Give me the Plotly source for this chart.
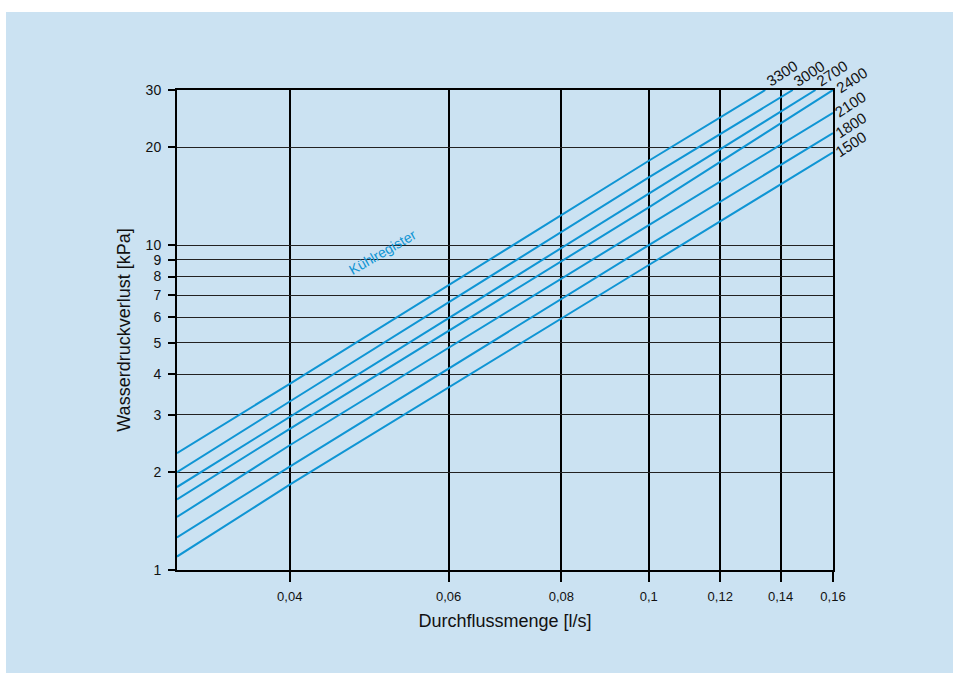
import plotly.graph_objects as go
import math

# ---- data ----
series_names = ["3300", "3000", "2700", "2400", "2100", "1800", "1500"]
x_3300 = [0.03, 0.04, 0.10, 0.1346]
y_3300 = [2.29, 3.74, 18.17, 30.0]
x_3000 = [0.03, 0.04, 0.10, 0.1444]
y_3000 = [2.00, 3.30, 16.15, 30.0]
x_2700 = [0.03, 0.04, 0.10, 0.153]
y_2700 = [1.80, 2.96, 14.42, 30.0]
x_2400 = [0.03, 0.04, 0.10, 0.16]
y_2400 = [1.65, 2.72, 13.06, 30.0]
x_2100 = [0.03, 0.04, 0.10, 0.16]
y_2100 = [1.456, 2.42, 11.52, 25.5]
x_1800 = [0.03, 0.04, 0.10, 0.16]
y_1800 = [1.26, 2.08, 10.0, 22.1]
x_1500 = [0.03, 0.04, 0.10, 0.16]
y_1500 = [1.10, 1.83, 8.68, 19.3]

x_tickvals = [0.04, 0.06, 0.08, 0.1, 0.12, 0.14, 0.16]
x_ticktext = ["0,04", "0,06", "0,08", "0,1", "0,12", "0,14", "0,16"]
y_tickvals = [1, 2, 3, 4, 5, 6, 7, 8, 9, 10, 20, 30]
y_ticktext = [str(v) for v in y_tickvals]

xs = [x_3300, x_3000, x_2700, x_2400, x_2100, x_1800, x_1500]
ys = [y_3300, y_3000, y_2700, y_2400, y_2100, y_1800, y_1500]

LINE = "#0f95d4"
BG = "#cbe2f2"
FONT = "Liberation Sans, Arial, sans-serif"

fig = go.Figure()
for name, xv, yv in zip(series_names, xs, ys):
    fig.add_trace(go.Scatter(x=xv, y=yv, mode="lines", name=name,
                             line=dict(color=LINE, width=2), showlegend=False,
                             hoverinfo="skip"))

# labels at line ends
for name, xv, yv in zip(series_names, xs, ys):
    top = yv[-1] >= 29.9 and name != "2400"
    if name == "2400":
        xs_, ys_ = 18, 10
    elif top:
        xs_, ys_ = 16, 17
    else:
        xs_, ys_ = 17, 8
    fig.add_annotation(x=math.log10(xv[-1]), y=math.log10(yv[-1]), xref="x", yref="y",
                       text=name, showarrow=False, textangle=-33,
                       xshift=xs_, yshift=ys_,
                       font=dict(family=FONT, size=15, color="#111"))

fig.add_annotation(x=math.log10(0.0507), y=math.log10(9.52), xref="x", yref="y",
                   text="Kühlregister", showarrow=False, textangle=-30,
                   font=dict(family=FONT, size=14, color=LINE))

L, R, T, B = 177, 120, 90, 103
W, H = 953, 673
pw, ph = W - L - R, H - T - B
fig.add_shape(type="rect", xref="paper", yref="paper",
              x0=(6 - L) / pw, x1=(953 - L) / pw,
              y0=(H - B - 673) / ph, y1=(H - B - 12) / ph,
              fillcolor=BG, line=dict(width=0), layer="below")

fig.update_layout(
    width=W, height=H,
    margin=dict(l=L, r=R, t=T, b=B),
    paper_bgcolor="white", plot_bgcolor="rgba(0,0,0,0)",
    font=dict(family=FONT, size=13, color="#111"),
    xaxis=dict(type="log", range=[math.log10(0.03), math.log10(0.16)],
               tickvals=x_tickvals, ticktext=x_ticktext,
               showgrid=True, gridcolor="#000", gridwidth=2,
               showline=True, linecolor="#000", linewidth=2, mirror=True,
               ticks="outside", ticklen=10, tickwidth=2, tickcolor="#000",
               tickfont=dict(size=13), zeroline=False, ticklabelstandoff=3,
               title=dict(text="Durchflussmenge [l/s]", font=dict(size=18), standoff=12)),
    yaxis=dict(type="log", range=[0, math.log10(30)],
               tickvals=y_tickvals, ticktext=y_ticktext,
               showgrid=True, gridcolor="#222", gridwidth=1,
               showline=True, linecolor="#000", linewidth=2, mirror=True,
               ticks="outside", ticklen=7, tickwidth=2, tickcolor="#000",
               tickfont=dict(size=14), zeroline=False, ticklabelstandoff=4,
               title=dict(text="Wasserdruckverlust [kPa]", font=dict(size=18), standoff=10)),
)

fig.write_html("out.html", config={"displayModeBar": False},
               post_script="document.body.style.margin='0';")
